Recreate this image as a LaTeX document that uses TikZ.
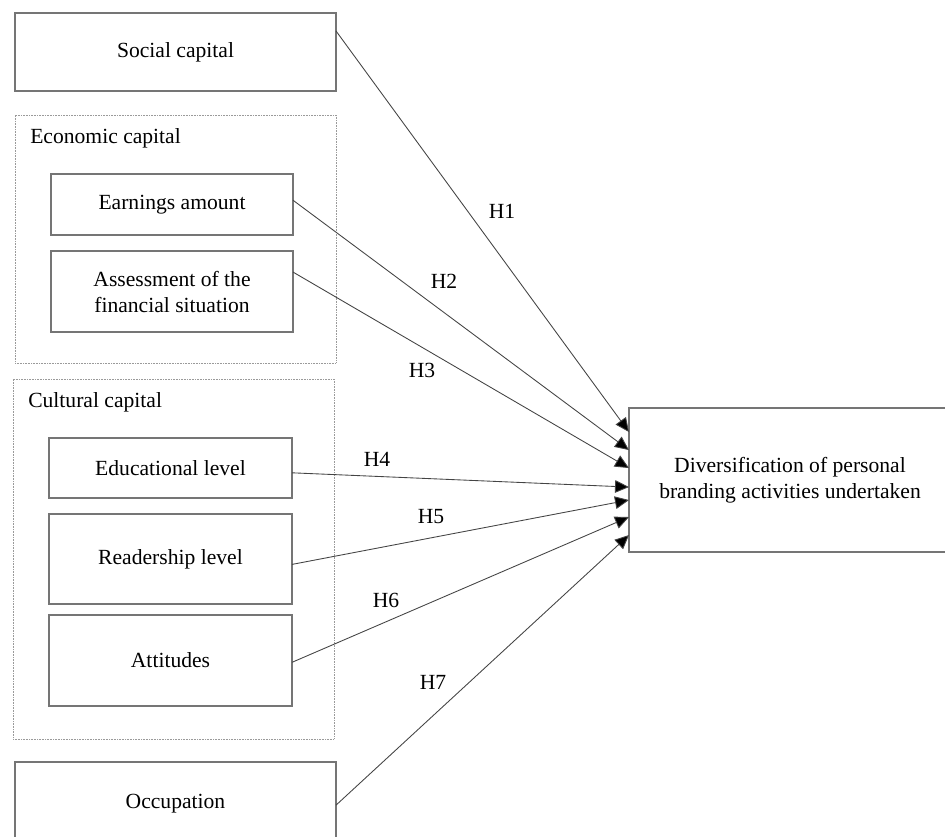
\documentclass[tikz,border=0pt]{standalone}
\usepackage{fontspec}
\setmainfont{Liberation Serif}
\usetikzlibrary{arrows.meta,calc}
\definecolor{boxgray}{HTML}{757575}
\definecolor{dotgray}{HTML}{9A9A9A}
\definecolor{linegray}{HTML}{444444}
\begin{document}
\begin{tikzpicture}[x=0.75pt,y=-0.75pt,
  every node/.style={font=\fontsize{16.2pt}{19.5pt}\selectfont},
  box/.style={draw=boxgray, line width=1.1pt, outer sep=0pt, inner sep=2pt, align=center},
  grp/.style={draw=dotgray, line width=0.7pt, dash pattern=on 0.6pt off 0.6pt, outer sep=0pt},
  grplbl/.style={anchor=base west, inner sep=0pt},
  lbl/.style={inner sep=0pt},
  conn/.style={draw=linegray, line width=0.65pt, -{Triangle[length=10.5pt, width=9.5pt, fill=black]}}
]
\useasboundingbox (0,0) rectangle (945,836);
\fill[white] (0,0) rectangle (945,836);
\clip (0,0) rectangle (945,836);

% group frames
\node[grp, minimum width=240.75pt, minimum height=186pt] (econ) at (175.5,239) {};
\node[grp, minimum width=240.75pt, minimum height=270pt] (cult) at (173.5,559) {};
\node[grplbl] (econlbl) at (30,143) {Economic capital};
\node[grplbl] (cultlbl) at (28,407) {Cultural capital};

% boxes
\node[box, minimum width=240.75pt, minimum height=58.5pt] (social) at (175.5,52) {Social capital};
\node[box, minimum width=181.5pt, minimum height=45.75pt] (earn) at (172,204.5) {Earnings amount};
\node[box, minimum width=181.5pt, minimum height=60.75pt] (assess) at (172,291.5) {Assessment of the\\financial situation};
\node[box, minimum width=182.25pt, minimum height=45pt] (edu) at (170.5,468) {Educational level};
\node[box, minimum width=182.25pt, minimum height=67.5pt] (read) at (170.5,559) {Readership level};
\node[box, minimum width=182.25pt, minimum height=68.25pt] (att) at (170.5,660.5) {Attitudes};
\node[box, minimum width=240.75pt, minimum height=62.25pt] (occ) at (175.5,803.5) {Occupation};
\node[box, minimum width=241.5pt, minimum height=108pt] (out) at (790,480) {Diversification of personal\\branding activities undertaken};

% connectors
\draw[conn] ($(social.north east)!0.23!(social.south east)$) -- ($(out.north west)!0.167!(out.south west)$);
\draw[conn] ($(earn.north east)!0.43!(earn.south east)$) -- ($(out.north west)!0.292!(out.south west)$);
\draw[conn] ($(assess.north east)!0.26!(assess.south east)$) -- ($(out.north west)!0.417!(out.south west)$);
\draw[conn] ($(edu.north east)!0.58!(edu.south east)$) -- ($(out.north west)!0.549!(out.south west)$);
\draw[conn] ($(read.north east)!0.56!(read.south east)$) -- ($(out.north west)!0.639!(out.south west)$);
\draw[conn] ($(att.north east)!0.52!(att.south east)$) -- ($(out.north west)!0.757!(out.south west)$);
\draw[conn] ($(occ.north east)!0.52!(occ.south east)$) -- ($(out.north west)!0.882!(out.south west)$);

% hypothesis labels
\node[lbl] (h1) at (502,211) {H1};
\node[lbl] (h2) at (444,281) {H2};
\node[lbl] (h3) at (422,370) {H3};
\node[lbl] (h4) at (377,459) {H4};
\node[lbl] (h5) at (431,517) {H5};
\node[lbl] (h6) at (386,600) {H6};
\node[lbl] (h7) at (433,682) {H7};
\end{tikzpicture}
\end{document}
